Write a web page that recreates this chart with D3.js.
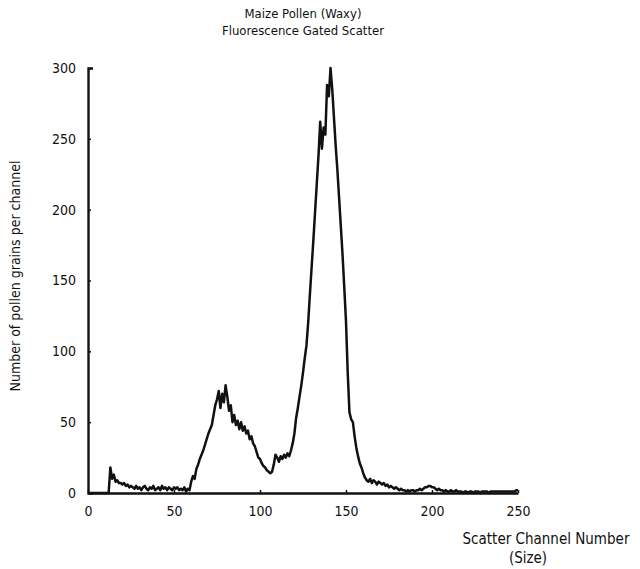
<!DOCTYPE html>
<html>
<head>
<meta charset="utf-8">
<script src="https://cdn.jsdelivr.net/npm/d3@7"></script>
<style>
  body { margin: 0; background: #fff; }
  svg text { font-family: "Liberation Sans Narrow", "DejaVu Sans Condensed", "Liberation Sans", sans-serif; fill: #111; }
</style>
</head>
<body>
<svg class="chart" width="640" height="569"></svg>
<script>
// pollen counts per scatter channel, 0..250
const channelStart = 0;
const counts = [
  0, 0, 0, 0, 0, 0, 0, 0, 0, 0, 0, 0, 0, 18, 10, 13, 8, 9, 7, 7,          // 0-19
  6, 7, 5, 6, 4, 5, 4, 3, 5, 3, 4, 2, 4, 5, 3, 2, 4, 3, 5, 2,              // 20-39
  3, 4, 2, 5, 3, 4, 2, 4, 3, 2, 4, 3, 4, 2, 3, 2, 4, 1, 3, 2,              // 40-59
  8, 12, 10, 17, 20, 24, 27, 30, 34, 38, 42, 45, 48, 55, 62, 66, 72, 60, 70, 64, // 60-79
  76, 68, 58, 62, 50, 55, 48, 51, 45, 50, 44, 47, 42, 44, 38, 40, 35, 33, 29, 25, // 80-99
  24, 21, 19, 18, 16, 15, 14, 15, 20, 27, 25, 22, 26, 24, 27, 25, 28, 26, 30, 35, // 100-119
  42, 53, 60, 68, 76, 85, 95, 104, 120, 140, 159, 178, 198, 218, 238, 262, 243, 258, 253, 288, // 120-139
  280, 300, 285, 265, 245, 228, 208, 188, 168, 145, 121, 85, 57, 52, 50, 40, 32, 26, 21, 18, // 140-159
  14, 11, 9, 8, 10, 7, 9, 8, 6, 8, 7, 6, 7, 5, 6, 4, 5, 4, 3, 4,           // 160-179
  3, 2, 3, 2, 2, 1, 2, 1, 2, 2, 1, 2, 2, 3, 2, 3, 4, 4, 5, 5,              // 180-199
  4, 4, 3, 2, 3, 2, 2, 1, 2, 1, 1, 2, 1, 1, 2, 1, 1, 1, 0, 1,              // 200-219
  1, 0, 1, 1, 0, 1, 1, 1, 0, 1, 1, 1, 1, 0, 1, 1, 1, 1, 1, 1,              // 220-239
  1, 1, 1, 1, 1, 1, 1, 1, 1, 2, 2                                          // 240-250
];
const xTicks = [0, 50, 100, 150, 200, 250];
const yTicks = [0, 50, 100, 150, 200, 250, 300];
const titleLines = ['Maize Pollen (Waxy)', 'Fluorescence Gated Scatter'];
const xLabelLines = ['Scatter Channel Number', '(Size)'];
const yLabel = 'Number of pollen grains per channel';

const data = counts.map((v, i) => ({ ch: channelStart + i, n: v }));

const svg = d3.select('.chart');

const x = d3.scaleLinear().domain([0, 250]).range([88, 518]);
const y = d3.scaleLinear().domain([0, 300]).range([493, 68]);

// axes: small inward ticks like the original plot
const yAxis = d3.axisLeft(y).tickValues(yTicks).tickSizeInner(-3).tickSizeOuter(-5).tickPadding(12);
const xAxis = d3.axisBottom(x).tickValues(xTicks).tickSizeInner(-3).tickSizeOuter(0).tickPadding(13);

const gy = svg.append('g').attr('transform', 'translate(' + x(0) + ',0)').call(yAxis);
const gx = svg.append('g').attr('transform', 'translate(0,' + y(0) + ')').call(xAxis);

[gx, gy].forEach(g => {
    g.select('.domain').attr('stroke', '#111').attr('stroke-width', 2.4);
    g.selectAll('.tick line').attr('stroke', '#111').attr('stroke-width', 1.5);
    g.selectAll('.tick text').attr('font-size', 14).attr('fill', '#111')
        .style('font-family', '"Liberation Sans Narrow", "DejaVu Sans Condensed", sans-serif');
});

const line = d3.line()
    .x(d => x(d.ch))
    .y(d => y(d.n));

svg.append('path')
    .datum(data)
    .attr('fill', 'none')
    .attr('stroke', '#111')
    .attr('stroke-width', 2.5)
    .attr('stroke-linejoin', 'round')
    .attr('d', line);

// title
svg.append('g').selectAll('text').data(titleLines).enter().append('text')
    .attr('x', 303)
    .attr('y', (d, i) => 18 + i * 17)
    .attr('text-anchor', 'middle')
    .attr('font-size', 13)
    .text(d => d);

// x label, under the right end of the axis
svg.append('g').selectAll('text').data(xLabelLines).enter().append('text')
    .attr('x', (d, i) => i === 0 ? 546 : 528)
    .attr('y', (d, i) => 544 + i * 19)
    .attr('text-anchor', 'middle')
    .attr('font-size', 15)
    .text(d => d);

svg.append('text')
    .attr('transform', 'translate(20,276) rotate(-90)')
    .attr('text-anchor', 'middle')
    .attr('font-size', 14)
    .text(yLabel);
</script>
</body>
</html>
